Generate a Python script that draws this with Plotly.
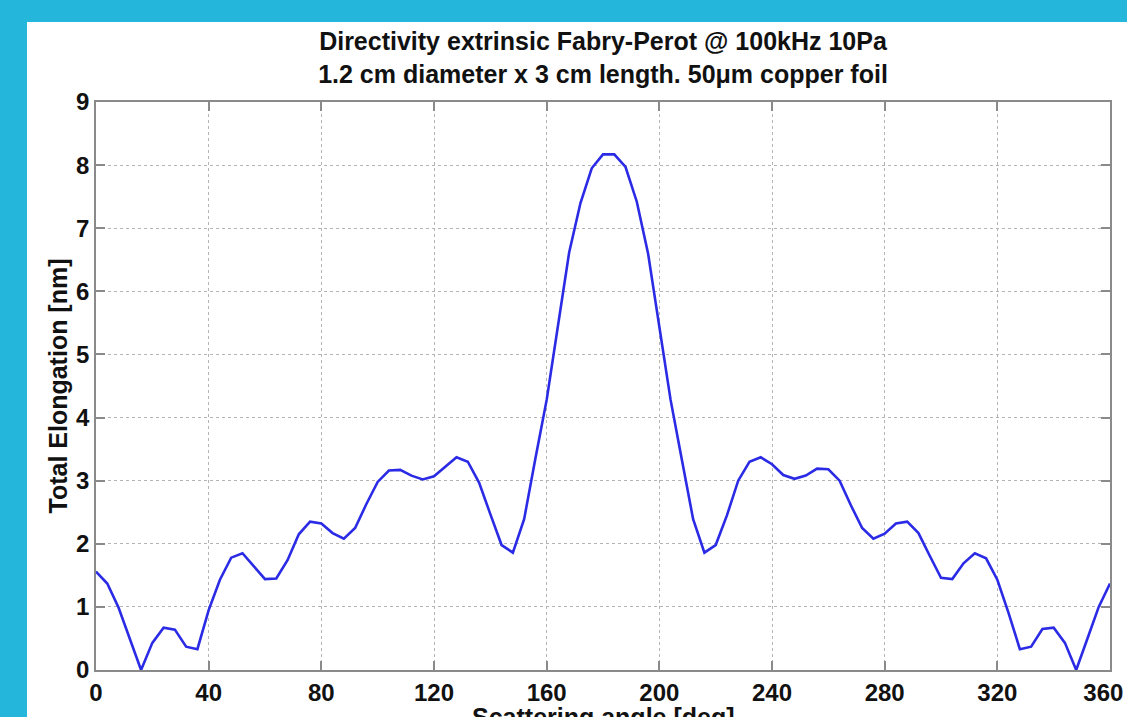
import plotly.graph_objects as go

angles = [0, 4, 8, 12, 16, 20, 24, 28, 32, 36, 40, 44, 48, 52, 56, 60, 64, 68, 72, 76,
          80, 84, 88, 92, 96, 100, 104, 108, 112, 116, 120, 124, 128, 132, 136, 140, 144,
          148, 152, 156, 160, 164, 168, 172, 176, 180, 184, 188, 192, 196, 200, 204, 208,
          212, 216, 220, 224, 228, 232, 236, 240, 244, 248, 252, 256, 260, 264, 268, 272,
          276, 280, 284, 288, 292, 296, 300, 304, 308, 312, 316, 320, 324, 328, 332, 336,
          340, 344, 348, 352, 356, 360]

elongation = [1.56, 1.37, 0.99, 0.48, 0.00, 0.43, 0.67, 0.64, 0.37, 0.33, 0.95, 1.43, 1.78,
              1.85, 1.65, 1.44, 1.45, 1.74, 2.15, 2.35, 2.32, 2.17, 2.08, 2.25, 2.63, 2.98,
              3.16, 3.17, 3.08, 3.02, 3.07, 3.22, 3.37, 3.30, 2.97, 2.47, 1.98, 1.86, 2.39,
              3.35, 4.28, 5.45, 6.62, 7.40, 7.95, 8.17, 8.17, 7.97, 7.42, 6.60, 5.45, 4.28,
              3.33, 2.39, 1.86, 1.98, 2.45, 3.00, 3.30, 3.37, 3.26, 3.09, 3.03, 3.08, 3.19,
              3.18, 3.00, 2.61, 2.25, 2.08, 2.16, 2.32, 2.35, 2.17, 1.81, 1.46, 1.44, 1.69,
              1.85, 1.77, 1.43, 0.90, 0.33, 0.37, 0.65, 0.67, 0.43, 0.00, 0.50, 1.00, 1.37]

x_ticks = [0, 40, 80, 120, 160, 200, 240, 280, 320, 360]
x_tick_labels = ["0", "40", "80", "120", "160", "200", "240", "280", "320", "360\u00a0\u00a0"]
y_ticks = [0, 1, 2, 3, 4, 5, 6, 7, 8, 9]

title_text = ("Directivity extrinsic Fabry-Perot @ 100kHz 10Pa<br>"
              "1.2 cm diameter x 3 cm length. 50\u03bcm copper foil")

FONT = "Arial, Liberation Sans, sans-serif"
W, H = 1127, 717
ML, MR, MT, MB = 96, 17, 102, 47
PW, PH = W - ML - MR, H - MT - MB

def px_to_paper_x(px):
    return (px - ML) / PW

def px_to_paper_y(py):
    return (H - MB - py) / PH

fig = go.Figure()
fig.add_trace(go.Scatter(
    x=angles, y=elongation, mode="lines",
    line=dict(color="#2b2be6", width=2.6),
    showlegend=False, hoverinfo="x+y",
))

axis_common = dict(
    showline=True, linecolor="#8a8a8a", linewidth=1.5, mirror="ticks",
    ticks="inside", ticklen=9, tickwidth=1.5, tickcolor="#8a8a8a",
    showgrid=True, gridcolor="#b4b4b4", griddash="dot", gridwidth=1,
    zeroline=False, ticklabeloverflow="allow",
    tickfont=dict(family=FONT, size=24, color="#111111", weight="bold"),
)

fig.update_xaxes(range=[0, 360], tickmode="array", tickvals=x_ticks,
                 ticktext=x_tick_labels, automargin=False, **axis_common)
fig.update_yaxes(range=[0, 9], tickmode="array", tickvals=y_ticks,
                 ticktext=[str(v) for v in y_ticks],
                 title=dict(text="Total Elongation [nm]", standoff=1,
                            font=dict(family=FONT, size=25, color="#111111", weight="bold")),
                 **axis_common)

fig.update_layout(
    width=W, height=H,
    margin=dict(l=ML, r=MR, t=MT, b=MB, autoexpand=False),
    paper_bgcolor="#25b6dc",
    plot_bgcolor="white",
    title=dict(text=title_text, x=px_to_paper_x(603), xref="paper", xanchor="center",
               y=1 - 50 / H, yanchor="middle",
               font=dict(family=FONT, size=25, color="#111111", weight="bold")),
    shapes=[dict(type="rect", xref="paper", yref="paper", layer="below",
                 x0=px_to_paper_x(27), x1=px_to_paper_x(W + 20),
                 y0=px_to_paper_y(H + 20), y1=px_to_paper_y(22),
                 fillcolor="white", line=dict(width=0))],
    annotations=[dict(text="Scattering angle [deg]", xref="paper", yref="paper",
                      x=px_to_paper_x(603), y=px_to_paper_y(717), xanchor="center",
                      yanchor="middle", showarrow=False,
                      font=dict(family=FONT, size=25, color="#111111", weight="bold"))],
)

fig.write_html("out.html")
